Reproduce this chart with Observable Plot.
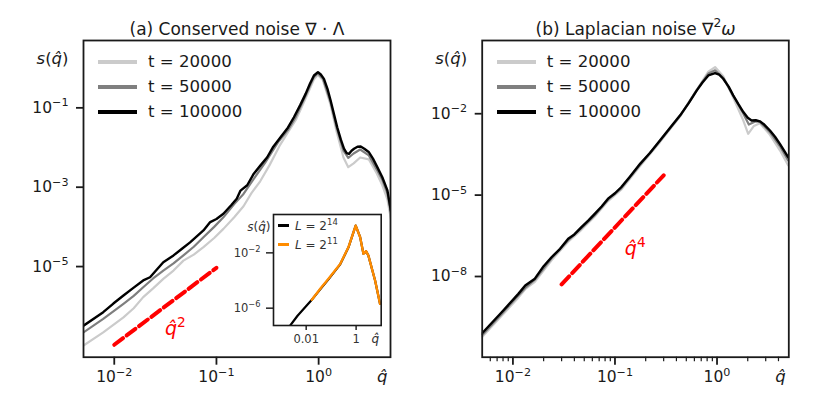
<!DOCTYPE html>
<html><head><meta charset="utf-8">
<script src="https://cdn.jsdelivr.net/npm/d3@7"></script>
<script src="https://cdn.jsdelivr.net/npm/@observablehq/plot@0.6"></script>
<style>
body{margin:0;background:#fff;font-family:"DejaVu Sans",sans-serif;}
#root{position:relative;width:830px;height:397px;overflow:hidden;background:#fff;}
.abs{position:absolute;}
.legend{position:absolute;font-size:16.6px;color:#1a1a1a;line-height:1;}
.legend .row{display:flex;align-items:center;height:25px;}
.legend .sw{display:inline-block;width:39px;height:3.5px;margin-right:11px;}
.ilegend{position:absolute;font-size:12px;color:#333;line-height:1;}
.ilegend .row{display:flex;align-items:center;height:19px;}
.ilegend .sw{display:inline-block;width:11px;height:3px;margin-right:6px;}
.ilegend sup{font-size:8.5px;vertical-align:5px;}
</style></head><body><div id="root"></div>
<script>
// ---------- data ----------
const timeLabels = ["t = 20000", "t = 50000", "t = 100000"];
const sizeLabels = ["14", "11"];

// Panel (a): conserved noise
const qA20 = [0.005,0.0078,0.0123,0.0155,0.0192,0.024,0.0302,0.038,0.0475,0.06,0.0746,0.095,0.117,0.15,0.184,0.22,0.268,0.33,0.42,0.5,0.6,0.75,0.9,0.98,1.1,1.3,1.5,1.75,1.95,2.2,2.55,3.1,3.7,4.2,4.7,5.1];
const sA20 = [1.02e-7,2.19e-7,5.25e-7,8.91e-7,1.70e-6,2.82e-6,4.90e-6,7.94e-6,1.41e-5,2.0e-5,3.09e-5,5.25e-5,8.91e-5,1.78e-4,3.31e-4,7.08e-4,1.41e-3,3.55e-3,1.17e-2,2.40e-2,5.01e-2,0.178,0.525,0.676,0.501,0.126,0.0251,5.62e-3,3.2e-3,3.98e-3,5.62e-3,5.01e-3,2.24e-3,1.12e-3,5.01e-4,1.58e-4];
const qA50 = [0.005,0.0078,0.0123,0.0155,0.0192,0.024,0.0302,0.038,0.0475,0.06,0.0746,0.095,0.117,0.15,0.184,0.23,0.3,0.4,0.5,0.6,0.75,0.9,0.98,1.1,1.3,1.5,1.75,1.95,2.2,2.55,3.1,3.7,4.2,4.7,5.1];
const sA50 = [2.19e-7,4.79e-7,1.15e-6,1.82e-6,3.02e-6,5.01e-6,7.94e-6,1.20e-5,1.91e-5,3.16e-5,5.50e-5,1.0e-4,1.74e-4,3.80e-4,6.76e-4,1.58e-3,4.17e-3,1.35e-2,2.75e-2,6.03e-2,0.209,0.603,0.741,0.550,0.148,0.0316,8.32e-3,5.5e-3,7.08e-3,8.91e-3,6.31e-3,2.82e-3,1.51e-3,7.08e-4,2.24e-4];
const qA100 = [0.005,0.0078,0.0098,0.0123,0.0155,0.0192,0.0224,0.026,0.0302,0.038,0.046,0.0552,0.0746,0.0869,0.1,0.117,0.14,0.158,0.172,0.2,0.232,0.27,0.314,0.36,0.424,0.5,0.573,0.66,0.746,0.82,0.9,0.985,1.05,1.127,1.22,1.31,1.42,1.52,1.65,1.77,1.88,1.98,2.1,2.22,2.4,2.58,2.8,3.11,3.4,3.76,4.2,4.71,5.1];
const sA100 = [3.24e-7,7.08e-7,1.17e-6,1.86e-6,2.95e-6,4.47e-6,5.37e-6,8.32e-6,1.29e-5,1.91e-5,2.82e-5,4.07e-5,8.13e-5,1.32e-4,1.58e-4,2.14e-4,3.55e-4,5.13e-4,8.22e-4,1.12e-3,2.19e-3,3.55e-3,5.69e-3,1.05e-2,1.82e-2,3.16e-2,5.79e-2,0.117,0.225,0.398,0.652,0.794,0.692,0.537,0.302,0.153,0.0661,0.0324,0.0158,9.33e-3,7.24e-3,6.92e-3,8.32e-3,9.33e-3,1.05e-2,1.06e-2,9.33e-3,7.59e-3,5.25e-3,3.16e-3,1.78e-3,8.32e-4,2.51e-4];
const fitAq = [0.01, 0.1];
const fitAs = [1.07e-7, 9.3e-6];
const fitAlabel = {q: 0.0397, s: 2.75e-7, text: "*q\u0302*^{2}"};

// Panel (b): Laplacian noise
const qB20 = [0.00494,0.00776,0.0113,0.0132,0.0164,0.0239,0.0348,0.0469,0.0633,0.0855,0.115,0.177,0.277,0.435,0.634,0.822,0.956,1.15,1.44,1.81,2.02,2.3,2.63,3.3,4.13,4.97];
const sB20 = [5.62e-11,3.55e-10,1.66e-9,3.39e-9,6.31e-9,3.98e-8,1.91e-7,5.25e-7,1.62e-6,6.03e-6,1.58e-5,1.20e-4,9.12e-4,7.94e-3,7.59e-2,0.355,0.525,0.240,3.98e-2,5.62e-3,1.82e-3,3.55e-3,4.47e-3,1.66e-3,4.47e-4,1.26e-4];
const qB50 = [0.00494,0.00776,0.0113,0.0132,0.0164,0.0239,0.0348,0.0469,0.0633,0.0855,0.115,0.177,0.277,0.435,0.634,0.822,0.956,1.15,1.44,1.81,2.05,2.4,2.63,3.3,4.13,4.97];
const sB50 = [6.61e-11,4.17e-10,2.0e-9,3.80e-9,7.59e-9,4.68e-8,2.19e-7,6.03e-7,1.82e-6,6.76e-6,1.78e-5,1.35e-4,1.0e-3,8.32e-3,7.59e-2,0.302,0.398,0.209,4.68e-2,1.0e-2,3.98e-3,5.25e-3,5.01e-3,2.09e-3,6.31e-4,1.91e-4];
const qB100 = [0.00494,0.00776,0.0113,0.0132,0.0164,0.02,0.0239,0.029,0.0348,0.04,0.0469,0.055,0.0633,0.074,0.0855,0.1,0.115,0.14,0.177,0.22,0.277,0.35,0.435,0.53,0.634,0.72,0.822,0.956,1.05,1.15,1.3,1.44,1.62,1.81,2.0,2.18,2.4,2.63,2.9,3.3,3.7,4.13,4.97];
const sB100 = [7.76e-11,4.79e-10,2.29e-9,4.68e-9,8.32e-9,2.40e-8,5.13e-8,1.05e-7,2.45e-7,3.55e-7,6.61e-7,1.17e-6,2.04e-6,3.80e-6,7.41e-6,1.17e-5,1.95e-5,4.79e-5,1.45e-4,3.55e-4,1.05e-3,3.16e-3,8.71e-3,2.51e-2,7.24e-2,0.141,0.257,0.316,0.275,0.195,0.1,4.73e-2,2.24e-2,1.15e-2,7.08e-3,5.62e-3,5.75e-3,5.25e-3,3.98e-3,2.40e-3,1.41e-3,7.76e-4,2.51e-4];
const fitBq = [0.03, 0.3];
const fitBs = [5.13e-9, 5.37e-5];
const fitBlabel = {q: 0.158, s: 1.07e-7, text: "*q\u0302*^{4}"};

// Inset: system size comparison
const qL14 = [0.0018,0.0045,0.0168,0.04,0.078,0.23,0.49,0.96,1.45,1.96,2.5,3.1,5.75,9.1];
const sL14 = [3.16e-8,2.82e-7,4.07e-6,2.82e-5,1.20e-4,1.48e-3,2.40e-2,0.933,0.135,8.51e-3,1.32e-2,6.31e-3,1.0e-4,2.04e-6];
const qL11 = [0.0168,0.04,0.078,0.23,0.49,0.96,1.45,1.96,2.5,3.1,5.75,9.1];
const sL11 = [4.07e-6,3.16e-5,1.35e-4,1.58e-3,2.51e-2,0.933,0.135,8.51e-3,1.32e-2,6.31e-3,1.0e-4,2.04e-6];

// tick values
const xTicks = [0.01, 0.1, 1];
const xMinorTicksB = [0.006,0.007,0.008,0.009,0.02,0.03,0.04,0.05,0.06,0.07,0.08,0.09,0.2,0.3,0.4,0.5,0.6,0.7,0.8,0.9,2,3,4];
const yTicksA = [1e-1, 1e-3, 1e-5];
const yTicksB = [1e-2, 1e-5, 1e-8];
const insetXTicks = [0.01, 1];
const insetXTickLabels = ["0.01", "1"];
const insetYTicks = [1e-2, 1e-6];

// ---------- rendering ----------
const FONT = "DejaVu Sans, sans-serif";
const INK = "#1a1a1a";
const greys = ["#cbcbcb", "#7f7f7f", "#000000"];
const pow10 = d => {
  const e = Math.round(Math.log10(d));
  return "10^{" + (e < 0 ? "\u2212" + (-e) : String(e)) + "}";
};
const rows = (q, s) => q.map((x, i) => ({q: x, s: s[i]}));

// light markup: ^{..} raised & smaller, *..* italic
function richText(svg) {
  const ns = "http://www.w3.org/2000/svg";
  svg.querySelectorAll("text").forEach(t => {
    const s = t.textContent;
    if (!/\^\{|\*/.test(s)) return;
    const fs = parseFloat(getComputedStyle(t).fontSize) || 14;
    const rise = 0.42 * fs;
    t.textContent = "";
    const re = /\^\{([^}]*)\}|\*([^*]*)\*/g;
    let last = 0, m, raised = false;
    const add = (txt, kind) => {
      const ts = document.createElementNS(ns, "tspan");
      ts.textContent = txt;
      if (kind === "sup") {
        ts.setAttribute("dy", -rise); ts.setAttribute("font-size", (0.72 * fs).toFixed(2)); raised = true;
      } else {
        if (raised) { ts.setAttribute("dy", rise); raised = false; }
        if (kind === "it") ts.setAttribute("font-style", "italic");
      }
      t.appendChild(ts);
    };
    while ((m = re.exec(s))) {
      if (m.index > last) add(s.slice(last, m.index), "plain");
      if (m[1] !== undefined) add(m[1], "sup"); else add(m[2], "it");
      last = re.lastIndex;
    }
    if (last < s.length) add(s.slice(last), "plain");
  });
}

const root = document.getElementById("root");
const SQ = "*s*(*q\u0302*)";
const QH = "*q\u0302*";

function panel({series, fit, fitLabel, yDomain, yTicks, minor, title, marginLeft, marginRight}) {
  const marks = [];
  series.forEach((d, i) => marks.push(Plot.line(d, {x: "q", y: "s", stroke: greys[i], strokeWidth: i === 2 ? 2.4 : 2.2, clip: true})));
  marks.push(Plot.line(fit, {x: "q", y: "s", stroke: "#ff0000", strokeWidth: 4, strokeDasharray: "11,4.5"}));
  marks.push(Plot.text([fitLabel], {x: "q", y: "s", text: "text", fill: "#ff0000", fontSize: 19}));
  if (minor) marks.push(Plot.axisX({ticks: minor, tickSize: 4.5, tickFormat: () => "", strokeWidth: 1.2, label: null}));
  marks.push(Plot.axisX({ticks: xTicks, tickFormat: pow10, tickSize: 8, tickPadding: 6, strokeWidth: 1.8, fontSize: 15.5, label: null}));
  marks.push(Plot.axisY({ticks: yTicks, tickFormat: pow10, tickSize: 7, tickPadding: 8, strokeWidth: 1.8, fontSize: 15.5, label: null}));
  marks.push(Plot.frame({stroke: INK, strokeWidth: 1.8}));
  marks.push(Plot.text([title], {text: d => d, frameAnchor: "top", dy: -18, fontSize: 17}));
  marks.push(Plot.text([SQ], {text: d => d, frameAnchor: "top-left", textAnchor: "end", dx: -15, dy: 12, fontSize: 16.5}));
  marks.push(Plot.text([QH], {text: d => d, frameAnchor: "bottom-right", textAnchor: "end", dx: -3, dy: 25, fontSize: 16.5}));
  return Plot.plot({
    width: 415, height: 397,
    marginTop: 40, marginBottom: 40.3, marginLeft, marginRight,
    style: {fontFamily: FONT, fontSize: "15px", color: INK, background: "transparent", overflow: "visible"},
    x: {type: "log", domain: [0.005, 5.05]},
    y: {type: "log", domain: yDomain},
    marks
  });
}

const pa = panel({
  series: [rows(qA20, sA20), rows(qA50, sA50), rows(qA100, sA100)],
  fit: rows(fitAq, fitAs), fitLabel: fitAlabel,
  yDomain: [5.2e-8, 4.98], yTicks: yTicksA, minor: null,
  title: "(a) Conserved noise \u2207 \u00b7 \u039b", marginLeft: 83, marginRight: 25
});
pa.classList.add("abs"); pa.style.left = "0px"; pa.style.top = "0px";
root.appendChild(pa);

const pb = panel({
  series: [rows(qB20, sB20), rows(qB50, sB50), rows(qB100, sB100)],
  fit: rows(fitBq, fitBs), fitLabel: fitBlabel,
  yDomain: [1.06e-11, 5.0], yTicks: yTicksB, minor: xMinorTicksB,
  title: "(b) Laplacian noise \u2207^{2}*\u03c9*", marginLeft: 66.7, marginRight: 41.7
});
pb.classList.add("abs"); pb.style.left = "415px"; pb.style.top = "0px";
root.appendChild(pb);

// inset
const inset = Plot.plot({
  width: 160, height: 147,
  marginTop: 9, marginBottom: 27, marginLeft: 45, marginRight: 7.3,
  style: {fontFamily: FONT, fontSize: "11.5px", color: "#333", background: "transparent", overflow: "visible"},
  x: {type: "log", domain: [4.9e-4, 10.1]},
  y: {type: "log", domain: [5.6e-8, 5.9]},
  marks: [
    Plot.frame({fill: "white", stroke: "none"}),
    Plot.line(rows(qL14, sL14), {x: "q", y: "s", stroke: "#000", strokeWidth: 2.2, clip: true}),
    Plot.line(rows(qL11, sL11), {x: "q", y: "s", stroke: "#ff8c00", strokeWidth: 2.4, clip: true}),
    Plot.axisX({ticks: insetXTicks, tickFormat: d => insetXTickLabels[insetXTicks.indexOf(d)], tickSize: 5, tickPadding: 4, strokeWidth: 1.6, label: null}),
    Plot.axisY({ticks: insetYTicks, tickFormat: pow10, tickSize: 7, tickPadding: 6, strokeWidth: 1.6, label: null}),
    Plot.frame({stroke: INK, strokeWidth: 1.6}),
    Plot.text([SQ], {text: d => d, frameAnchor: "top-left", textAnchor: "end", dx: -3, dy: 8, fontSize: 12}),
    Plot.text([QH], {text: d => d, frameAnchor: "bottom-right", textAnchor: "end", dx: -2, dy: 17, fontSize: 12})
  ]
});
inset.classList.add("abs"); inset.style.left = "228px"; inset.style.top = "205px";
root.appendChild(inset);

[pa, pb, inset].forEach(richText);

// legends
function legend(left, top) {
  const div = document.createElement("div");
  div.className = "legend";
  div.style.left = left + "px"; div.style.top = top + "px";
  timeLabels.forEach((t, i) => {
    const r = document.createElement("div"); r.className = "row";
    const sw = document.createElement("span"); sw.className = "sw"; sw.style.background = greys[i];
    const tx = document.createElement("span"); tx.textContent = t;
    r.appendChild(sw); r.appendChild(tx); div.appendChild(r);
  });
  root.appendChild(div);
}
legend(98, 49.5);
legend(496.7, 49.5);

const il = document.createElement("div");
il.className = "ilegend"; il.style.left = "278px"; il.style.top = "215.5px";
["#000", "#ff8c00"].forEach((c, i) => {
  const r = document.createElement("div"); r.className = "row";
  const sw = document.createElement("span"); sw.className = "sw"; sw.style.background = c;
  const tx = document.createElement("span");
  const it = document.createElement("i"); it.textContent = "L";
  tx.appendChild(it); tx.appendChild(document.createTextNode(" = 2"));
  const sp = document.createElement("sup"); sp.textContent = sizeLabels[i]; tx.appendChild(sp);
  r.appendChild(sw); r.appendChild(tx); il.appendChild(r);
});
root.appendChild(il);
</script></body></html>
